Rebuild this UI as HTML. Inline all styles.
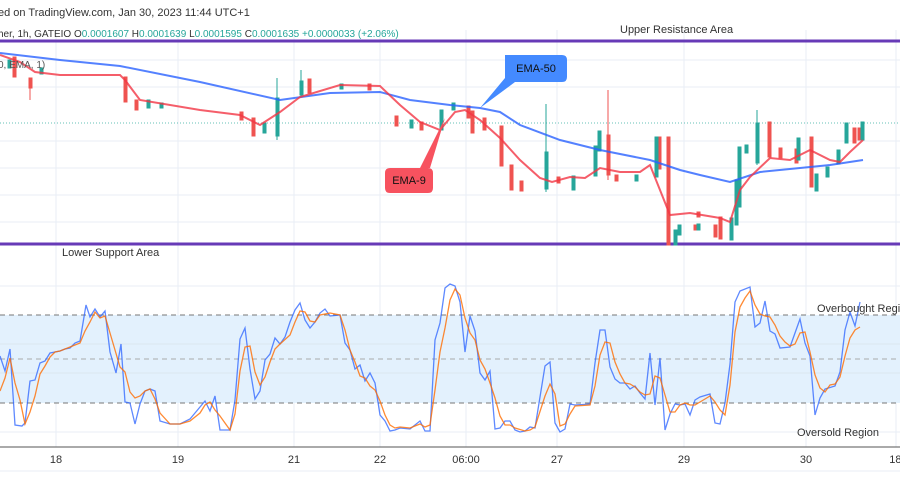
<!DOCTYPE html>
<html><head><meta charset="utf-8"><style>
html,body{margin:0;padding:0;background:#fff;}
svg{display:block;font-family:"Liberation Sans",sans-serif;}
</style></head><body>
<svg width="900" height="500" viewBox="0 0 900 500" xmlns="http://www.w3.org/2000/svg">
<rect width="900" height="500" fill="#fff"/>
<!-- grid -->
<g stroke="#e8eef5" stroke-width="1">
<line x1="56" y1="30" x2="56" y2="447"/><line x1="178" y1="30" x2="178" y2="447"/>
<line x1="294" y1="30" x2="294" y2="447"/><line x1="380" y1="30" x2="380" y2="447"/>
<line x1="466" y1="30" x2="466" y2="447"/><line x1="557" y1="30" x2="557" y2="447"/>
<line x1="684" y1="30" x2="684" y2="447"/><line x1="806" y1="30" x2="806" y2="447"/>
<line x1="896" y1="30" x2="896" y2="447"/>
<line x1="0" y1="60" x2="900" y2="60"/><line x1="0" y1="87" x2="900" y2="87"/>
<line x1="0" y1="141" x2="900" y2="141"/><line x1="0" y1="168" x2="900" y2="168"/>
<line x1="0" y1="195" x2="900" y2="195"/><line x1="0" y1="222" x2="900" y2="222"/>
<line x1="0" y1="286" x2="900" y2="286"/><line x1="0" y1="432" x2="900" y2="432"/>
</g>
<line x1="0" y1="123" x2="900" y2="123" stroke="#26a69a" stroke-width="1" stroke-dasharray="1,2" opacity="0.7"/>
<!-- band -->
<rect x="0" y="315" width="900" height="88" fill="#e3f1fd"/>
<g stroke="#dbe6ef"><line x1="0" y1="344" x2="900" y2="344"/><line x1="0" y1="373" x2="900" y2="373"/></g>
<g stroke="#777" stroke-dasharray="5,4" stroke-width="1">
<line x1="0" y1="315" x2="900" y2="315"/><line x1="0" y1="403" x2="900" y2="403"/></g>
<line x1="0" y1="359" x2="900" y2="359" stroke="#aaa" stroke-dasharray="5,4"/>
<!-- purple lines -->
<line x1="0" y1="41" x2="900" y2="41" stroke="#673ab7" stroke-width="3"/>
<line x1="0" y1="244" x2="900" y2="244" stroke="#673ab7" stroke-width="3"/>
<!-- candles -->
<g stroke-width="1">
<g fill="#ef5350" stroke="#ef5350">
<rect x="13" y="57" width="3" height="20"/><rect x="29" y="78" width="3" height="10"/><line x1="30" y1="78" x2="30" y2="100"/>
<rect x="124" y="77" width="3" height="25"/><rect x="135" y="100" width="3" height="10"/><rect x="240" y="112" width="3" height="8"/><rect x="252" y="118" width="3" height="18"/>
<rect x="308" y="79" width="3" height="14"/><rect x="368" y="84" width="3" height="6"/><rect x="395" y="116" width="3" height="10"/><rect x="420" y="122" width="3" height="8"/>
<rect x="467" y="106" width="3" height="12"/><rect x="471" y="111" width="3" height="22"/><rect x="483" y="118" width="3" height="12"/><rect x="500" y="126" width="3" height="40"/>
<rect x="510" y="165" width="3" height="25"/><rect x="520" y="181" width="3" height="10"/><rect x="557" y="177" width="3" height="6"/>
<rect x="607" y="135" width="3" height="40"/><line x1="608" y1="90" x2="608" y2="180"/><rect x="615" y="175" width="3" height="6"/>
<rect x="658" y="137" width="3" height="32"/><rect x="667" y="137" width="3" height="108"/><rect x="697" y="212" width="3" height="5"/>
<rect x="694" y="225" width="3" height="5"/><rect x="714" y="225" width="3" height="12"/><rect x="719" y="217" width="3" height="22"/>
<rect x="768" y="122" width="3" height="35"/><rect x="779" y="148" width="3" height="10"/><rect x="795" y="149" width="3" height="14"/>
<rect x="810" y="137" width="3" height="50"/><rect x="853" y="128" width="3" height="15"/><rect x="858" y="128" width="3" height="12"/>
</g>
<g fill="#26a69a" stroke="#26a69a">
<rect x="8" y="60" width="3" height="8"/><rect x="40" y="68" width="3" height="6"/><rect x="147" y="100" width="3" height="8"/><rect x="160" y="103" width="3" height="5"/>
<rect x="263" y="123" width="3" height="10"/><rect x="276" y="98" width="3" height="38"/><line x1="277" y1="78" x2="277" y2="140"/><rect x="300" y="81" width="3" height="14"/><line x1="301" y1="70" x2="301" y2="96"/>
<rect x="340" y="84" width="3" height="5"/><rect x="410" y="120" width="3" height="8"/><rect x="440" y="110" width="3" height="20"/><rect x="452" y="103" width="3" height="7"/>
<rect x="545" y="152" width="3" height="37"/><line x1="546" y1="104" x2="546" y2="192"/><rect x="572" y="176" width="3" height="14"/><rect x="594" y="146" width="3" height="30"/>
<rect x="598" y="131" width="3" height="20"/><rect x="635" y="175" width="3" height="6"/><rect x="655" y="137" width="3" height="40"/><rect x="674" y="230" width="3" height="15"/>
<rect x="678" y="225" width="3" height="10"/><rect x="697" y="224" width="3" height="6"/><rect x="730" y="218" width="3" height="22"/><rect x="735" y="180" width="3" height="45"/>
<rect x="738" y="147" width="3" height="60"/><rect x="745" y="145" width="3" height="8"/><rect x="756" y="123" width="3" height="40"/><line x1="757" y1="110" x2="757" y2="165"/>
<rect x="797" y="138" width="3" height="22"/><rect x="815" y="174" width="3" height="17"/><rect x="826" y="167" width="3" height="10"/><rect x="837" y="150" width="3" height="14"/>
<rect x="845" y="123" width="3" height="20"/><rect x="861" y="122" width="3" height="18"/>
</g>
</g>
<!-- EMA lines -->
<polyline fill="none" stroke="#2962ff" stroke-opacity="0.8" stroke-width="2" points="0,53 60,60 120,66 200,82 280,100 330,93 380,92 410,100 450,105 480,108 500,112 520,125 560,140 600,150 650,160 680,170 700,175 730,182 760,172 800,168 830,165 863,160"/>
<polyline fill="none" stroke="#f23645" stroke-opacity="0.8" stroke-width="2" points="0,55 20,62 35,72 60,75 120,75 125,80 140,100 200,110 240,115 260,125 280,112 300,97 340,85 380,86 400,105 420,122 440,130 455,112 465,110 480,120 500,138 520,160 540,178 552,182 570,177 585,178 600,168 620,172 640,172 650,165 670,215 690,213 720,218 730,222 740,190 750,177 770,158 790,160 810,150 830,160 840,162 850,152 863,140"/>
<!-- callouts -->
<path d="M505,55 H562 Q567,55 567,60 V77 Q567,82 562,82 H515 L480,108 L505,78 Z" fill="#448aff"/>
<text x="536" y="72" font-size="11" fill="#111" text-anchor="middle">EMA-50</text>
<path d="M390,168 H428 Q433,168 433,173 V188 Q433,193 428,193 H390 Q385,193 385,188 V173 Q385,168 390,168 Z M420,168 L445,118 L430,168 Z" fill="#f7525f"/>
<text x="409" y="184" font-size="11" fill="#111" text-anchor="middle">EMA-9</text>
<!-- stochastic -->
<polyline fill="none" stroke="#2962ff" stroke-opacity="0.75" stroke-width="1.3" points="0,356 5,371 10,349 15,425 22,426 25,423 30,381 35,380 40,363 45,361 50,353 55,352 60,351 65,349 70,348 75,343 80,341 86,305 90,317 95,309 100,317 105,311 110,352 116,373 121,344 125,402 130,403 135,424 140,404 145,391 150,389 155,391 160,421 170,424 180,424 190,419 200,407 205,401 210,411 215,396 220,430 230,430 235,400 240,339 245,328 250,369 255,399 260,391 265,360 270,354 275,338 280,344 285,337 290,322 295,310 300,303 305,320 310,328 315,322 320,313 325,309 330,316 340,315 345,343 350,350 355,369 360,365 365,381 370,373 375,383 380,415 385,421 390,431 395,430 400,428 410,429 415,425 420,421 425,431 430,431 435,340 440,323 445,288 450,284 455,286 460,302 465,352 470,316 475,331 480,373 485,380 490,371 495,429 500,428 505,421 510,421 515,430 520,432 525,431 530,427 535,428 545,366 550,362 555,423 560,432 565,429 570,404 575,405 590,404 595,363 600,330 605,330 610,367 615,379 620,383 625,383 630,389 635,386 640,393 645,399 650,353 655,405 660,358 665,430 670,414 675,404 680,405 685,404 690,415 695,400 700,397 710,394 715,423 720,424 725,403 730,364 735,302 740,291 750,287 755,327 760,323 765,301 770,331 775,334 780,348 790,347 795,333 800,319 805,343 810,356 815,415 820,398 825,389 835,386 840,372 845,330 850,312 855,326 860,302"/>
<polyline fill="none" stroke="#ff6d00" stroke-opacity="0.8" stroke-width="1.3" points="0,391 5,378 10,358 15,383 20,400 25,424 30,412 35,396 40,374 45,366 50,357 55,352 60,351 70,347 80,343 85,331 90,322 95,312 100,318 105,316 110,333 115,350 120,367 125,372 130,392 135,398 140,396 145,391 150,389 155,399 160,413 170,424 180,424 190,421 200,413 205,405 210,402 215,410 220,416 230,430 235,414 240,371 245,347 250,346 255,372 260,385 265,377 270,362 275,349 280,344 290,335 295,322 300,311 305,312 310,321 315,322 320,315 330,313 340,315 345,330 350,350 355,362 360,376 365,378 370,386 375,390 380,401 385,415 390,425 395,428 400,427 410,428 415,426 420,424 425,427 430,425 435,390 440,352 445,328 450,300 455,289 460,295 465,318 470,333 475,340 480,360 485,369 490,383 495,398 500,416 505,425 510,425 515,428 525,431 530,430 535,427 545,396 550,384 555,394 560,426 565,424 570,414 575,406 590,405 595,386 600,355 605,342 610,343 615,362 620,374 625,383 630,384 635,387 640,392 645,395 650,394 655,376 660,378 665,395 670,412 675,412 680,405 685,403 690,405 695,405 705,399 710,396 715,402 720,410 725,415 730,385 735,332 740,307 745,298 750,291 755,305 760,314 765,316 770,317 775,325 780,336 785,342 790,346 795,344 800,333 805,332 810,352 815,375 820,388 825,392 830,385 835,384 840,377 845,356 850,338 855,330 860,327"/>
<!-- axis -->
<line x1="0" y1="447" x2="900" y2="447" stroke="#555" stroke-width="1"/>
<line x1="0" y1="471" x2="900" y2="471" stroke="#e8eef5" stroke-width="1"/>
<g font-size="11" fill="#333" text-anchor="middle">
<text x="56" y="463">18</text><text x="178" y="463">19</text><text x="294" y="463">21</text><text x="380" y="463">22</text>
<text x="466" y="463">06:00</text><text x="557" y="463">27</text><text x="684" y="463">29</text><text x="806" y="463">30</text><text x="900" y="463">18:0</text>
</g>
<!-- texts -->
<text x="-2" y="16" font-size="11" fill="#333">ed on TradingView.com, Jan 30, 2023 11:44 UTC+1</text>
<text x="-2" y="37" font-size="10" fill="#333">her, 1h, GATEIO <tspan>O</tspan><tspan fill="#26a69a">0.0001607</tspan> H<tspan fill="#26a69a">0.0001639</tspan> L<tspan fill="#26a69a">0.0001595</tspan> C<tspan fill="#26a69a">0.0001635</tspan> <tspan fill="#26a69a">+0.0000033 (+2.06%)</tspan></text>
<text x="-2" y="68" font-size="10" fill="#555">0, EMA, 1)</text>
<text x="620" y="33" font-size="11" fill="#333">Upper Resistance Area</text>
<text x="62" y="256" font-size="11" fill="#333">Lower Support Area</text>
<text x="817" y="312" font-size="11" fill="#333">Overbought Regi</text>
<text x="797" y="436" font-size="11" fill="#333">Oversold Region</text>
</svg>
</body></html>
